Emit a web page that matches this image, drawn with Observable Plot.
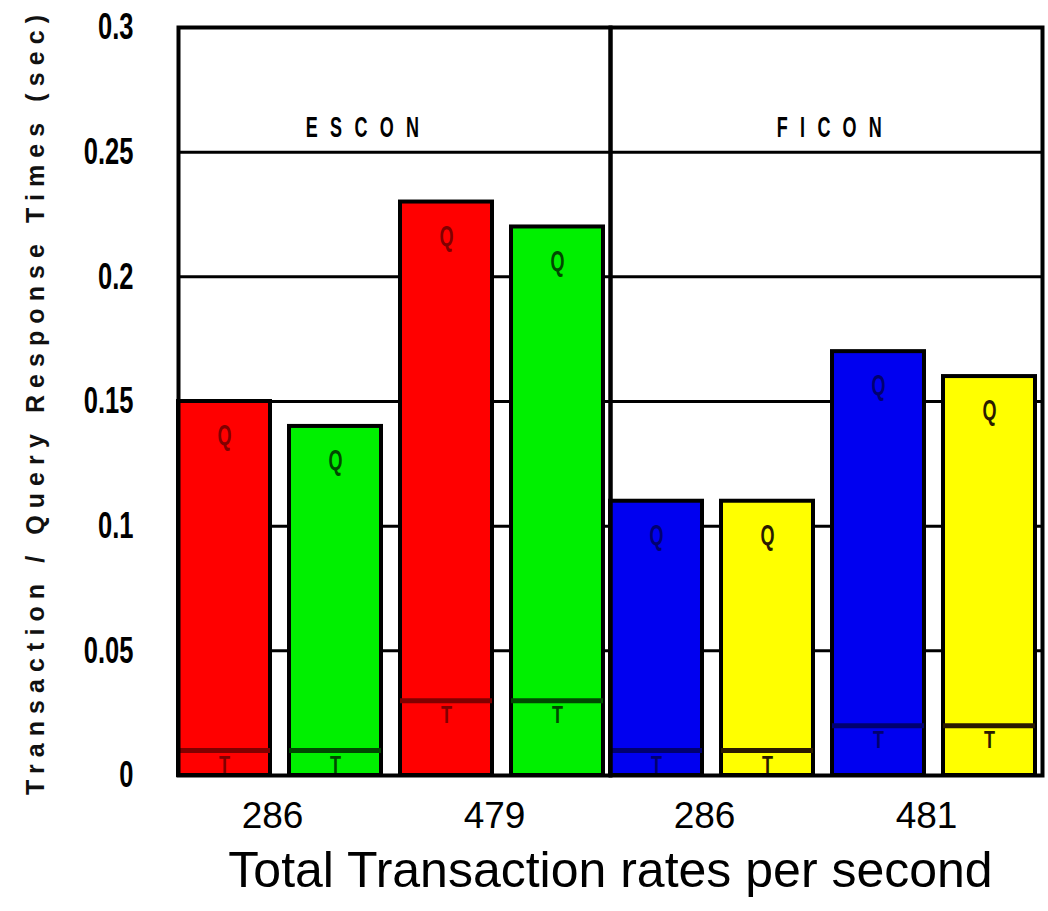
<!DOCTYPE html>
<html>
<head>
<meta charset="utf-8">
<script src="https://cdn.jsdelivr.net/npm/d3@7"></script>
<script src="https://cdn.jsdelivr.net/npm/@observablehq/plot@0.6"></script>
<style>
  html, body { margin: 0; padding: 0; background: #fff; }
  #chart { width: 1048px; height: 911px; }
</style>
</head>
<body>
<div id="chart"></div>
<script>
// ---- data ----
const systems   = ["ESCON", "ESCON", "ESCON", "ESCON", "FICON", "FICON", "FICON", "FICON"];
const slots     = ["s1", "s2", "s3", "s4", "s1", "s2", "s3", "s4"];
const rates     = ["286", "286", "479", "479", "286", "286", "481", "481"];
const queryTime = [0.15, 0.14, 0.23, 0.22, 0.11, 0.11, 0.17, 0.16];   // Q (bar top)
const transTime = [0.01, 0.01, 0.03, 0.03, 0.01, 0.01, 0.02, 0.02];   // T (inner line)
const barFills  = ["#ff0000", "#00f000", "#ff0000", "#00f000", "#0000f0", "#ffff00", "#0000f0", "#ffff00"];
const barInks   = ["#800000", "#004800", "#800000", "#004800", "#000070", "#2a1a00", "#000070", "#2a1a00"];

const pairSystems = ["ESCON", "ESCON", "FICON", "FICON"];
const pairSlots   = ["s1", "s3", "s1", "s3"];
const pairLabels  = ["286", "479", "286", "481"];

const groupNames  = ["ESCON", "FICON"];
const yTicks      = [0, 0.05, 0.1, 0.15, 0.2, 0.25, 0.3];
const yTickLabels = ["0", "0.05", "0.1", "0.15", "0.2", "0.25", "0.3"];
const gridValues  = [0.05, 0.1, 0.15, 0.2, 0.25, 0.3];

const yLabel = "Transaction / Query Response Times (sec)";
const xLabel = "Total Transaction rates per second";

// ---- tables built from the arrays ----
const bars = systems.map((s, i) => ({
  system: s, slot: slots[i], rate: rates[i],
  q: queryTime[i], t: transTime[i], fill: barFills[i], ink: barInks[i]
}));
const pairs = pairSystems.map((s, i) => ({system: s, slot: pairSlots[i], label: pairLabels[i]}));
const groups = groupNames.map(g => ({system: g, name: g}));

const chart = Plot.plot({
  width: 1048,
  height: 911,
  marginLeft: 178,
  marginRight: 6,
  marginTop: 27,
  marginBottom: 136,
  style: {fontFamily: "'Liberation Sans', Arial, sans-serif", background: "#fff", color: "#000"},
  fx: {domain: groupNames, padding: 0, axis: null},
  x: {domain: ["s1", "s2", "s3", "s4"], paddingInner: 0.17, paddingOuter: 0.02, align: 0, axis: null},
  y: {
    domain: [0, 0.3],
    ticks: yTicks,
    tickFormat: (d) => yTickLabels[yTicks.indexOf(d)],
    tickSize: 0,
    tickPadding: 45,
    label: null
  },
  marks: [
    Plot.ruleY(gridValues, {stroke: "black", strokeWidth: 3}),
    Plot.barY(bars, {fx: "system", x: "slot", y: "q", fill: "fill", stroke: "black", strokeWidth: 4}),
    Plot.tickY(bars, {fx: "system", x: "slot", y: "t", stroke: "ink", strokeWidth: 5}),
    Plot.text(bars, {fx: "system", x: "slot", y: "q", text: () => "Q", dy: 34, fill: "ink", fontSize: 30, fontWeight: "bold"}),
    Plot.text(bars, {fx: "system", x: "slot", y: "t", text: () => "T", dy: 15, fill: "ink", fontSize: 24, fontWeight: "bold"}),
    Plot.frame({stroke: "black", strokeWidth: 4}),
    Plot.text(groups.filter(d => d.system === "ESCON"), {fx: "system", y: () => 0.26, text: "name", dx: -26, fontSize: 30, fontWeight: "bold", fill: "black"}),
    Plot.text(groups.filter(d => d.system === "FICON"), {fx: "system", y: () => 0.26, text: "name", dx: 9, fontSize: 30, fontWeight: "bold", fill: "black"}),
    Plot.text(pairs, {fx: "system", x: "slot", text: "label", frameAnchor: "bottom", dy: 52, dx: 48, fontSize: 37, fill: "black"}),
    Plot.text([{system: "ESCON", t: xLabel}], {fx: "system", text: "t", frameAnchor: "bottom-right", textAnchor: "middle", dy: 111, fontSize: 50, fill: "black"}),
    Plot.text([{system: "ESCON", t: yLabel}], {fx: "system", text: "t", frameAnchor: "left", textAnchor: "middle", rotate: -90, dx: -143, fontSize: 25, fontWeight: "bold", fill: "#111"})
  ]
});

document.getElementById("chart").appendChild(chart);

// ---- post styling: condensed glyphs and letter spacing ----
function condense(node, sx) {
  const el = d3.select(node);
  const t = el.attr("transform") || "";
  const xa = el.attr("x");
  let pre = "";
  if (xa !== null && !/em$/.test(xa) && +xa !== 0) {
    pre = ` translate(${+xa},0)`;
    el.attr("x", null);
  }
  el.attr("transform", `${t}${pre} scale(${sx},1)`);
}
function spread(node, targetPx, sx) {
  node.style.letterSpacing = "0px";
  const n = node.textContent.length;
  const L0 = node.getComputedTextLength();
  const ls = (targetPx / sx - L0) / (n - 1);
  node.style.letterSpacing = ls + "px";
}

const svg = d3.select(chart);
svg.selectAll("text").each(function () {
  const s = this.textContent;
  if (s === yLabel) spread(this, 780, 1);
  if (s === "ESCON") { condense(this, 0.6); spread(this, 113, 0.6); }
  if (s === "FICON") { condense(this, 0.6); spread(this, 105, 0.6); }
  if (s === "Q") condense(this, 0.6);
  if (s === "T") condense(this, 0.75);
});
svg.selectAll('[aria-label="y-axis tick label"] text')
  .style("font-weight", "bold")
  .style("font-size", "37px")
  .each(function () { condense(this, 0.69); });
</script>
</body>
</html>
